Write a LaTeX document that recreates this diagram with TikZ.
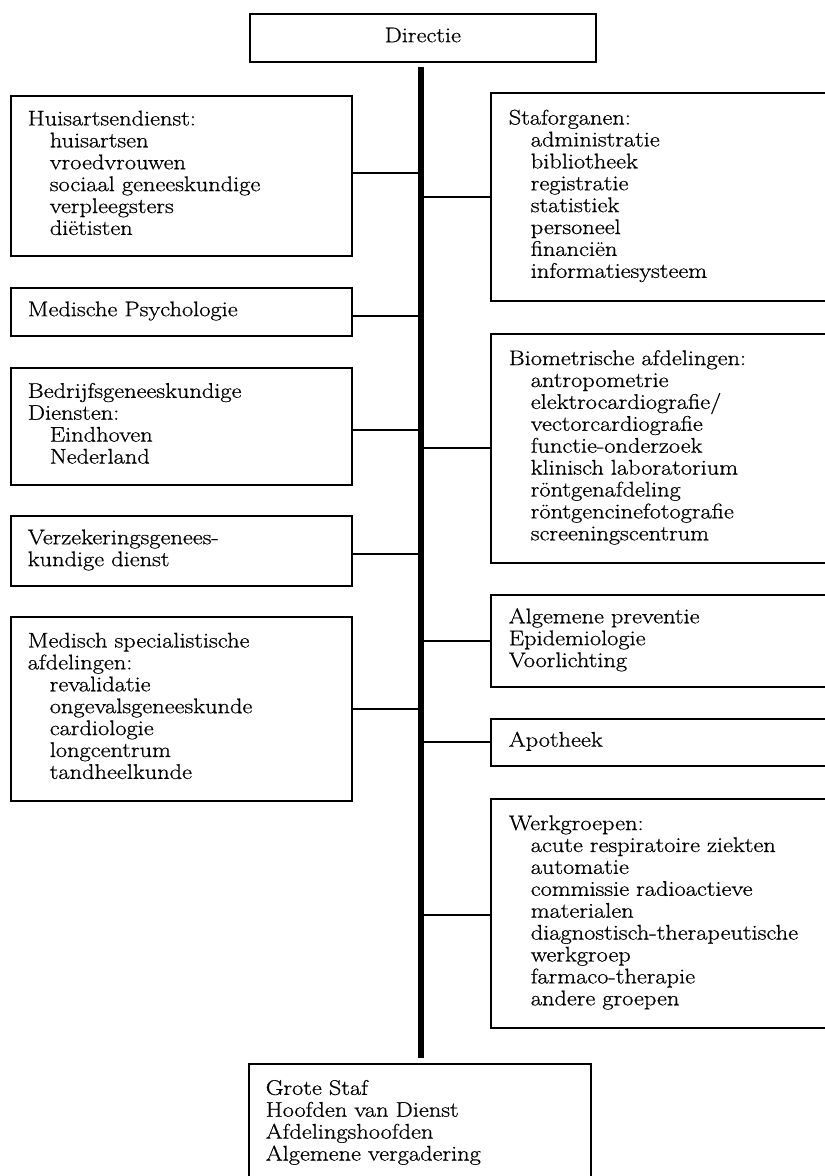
\documentclass[tikz,border=0pt]{standalone}
\usepackage{fontspec}
\setmainfont{Latin Modern Roman}[FakeBold=0.7, FakeStretch=1.15]
\newcommand\ind{\hspace*{22pt}}
\tikzset{
  base/.style={font=\fontsize{21.2}{21.9}\selectfont, execute at begin node=\strut, execute at end node=\strut},
  frame/.style={draw, line width=1.6pt},
  lbox/.style={base, frame, inner ysep=0pt, inner xsep=17pt, text width=307pt, align=left, anchor=north west},
  rbox/.style={lbox, inner xsep=18pt, text width=324pt},
  conn/.style={line width=1.5pt},
  spine/.style={line width=6pt}
}
\begin{document}
\begin{tikzpicture}[x=1pt,y=-1pt]
\useasboundingbox (0,0) rectangle (825,1176);
\clip (0,0) rectangle (825,1176);

\node[base, frame, inner sep=0pt, minimum width=346pt, minimum height=48pt, anchor=north west] (dir) at (249,13) {Directie};

% left column
\node[lbox, minimum height=160pt] (huis) at (10,95) {Huisartsendienst:\\\ind huisartsen\\\ind vroedvrouwen\\\ind sociaal geneeskundige\\\ind verpleegsters\\\ind diëtisten};
\node[lbox, minimum height=48pt] (med) at (10,287) {Medische Psychologie};
\node[lbox, minimum height=117pt] (bedr) at (10,367) {Bedrijfsgeneeskundige\\Diensten:\\\ind Eindhoven\\\ind Nederland};
\node[lbox, minimum height=70pt] (verz) at (10,515) {Verzekeringsgenees-\\kundige dienst};
\node[lbox, minimum height=184pt] (meds) at (10,616) {Medisch specialistische\\afdelingen:\\\ind revalidatie\\\ind ongevalsgeneeskunde\\\ind cardiologie\\\ind longcentrum\\\ind tandheelkunde};

% right column
\node[rbox, minimum height=208pt] (staf) at (490,92) {Staforganen:\\\ind administratie\\\ind bibliotheek\\\ind registratie\\\ind statistiek\\\ind personeel\\\ind financiën\\\ind informatiesysteem};
\node[rbox, minimum height=229pt] (bio) at (490,333) {Biometrische afdelingen:\\\ind antropometrie\\\ind elektrocardiografie/\\\ind vectorcardiografie\\\ind functie-onderzoek\\\ind klinisch laboratorium\\\ind röntgenafdeling\\\ind röntgencinefotografie\\\ind screeningscentrum};
\node[rbox, minimum height=92pt] (alg) at (490,594) {Algemene preventie\\Epidemiologie\\Voorlichting};
\node[rbox, minimum height=47pt] (apo) at (490,718) {Apotheek};
\node[rbox, minimum height=229pt] (werk) at (490,798) {Werkgroepen:\\\ind acute respiratoire ziekten\\\ind automatie\\\ind commissie radioactieve\\\ind materialen\\\ind diagnostisch-therapeutische\\\ind werkgroep\\\ind farmaco-therapie\\\ind andere groepen};

% bottom
\node[lbox, text width=308pt, minimum height=119pt] (grote) at (248,1063) {Grote Staf\\Hoofden van Dienst\\Afdelingshoofden\\Algemene vergadering};

% spine
\coordinate (st) at (420.5,67);
\coordinate (sb) at (420.5,1058);
\draw[spine] (st) -- (sb);

% connectors
\draw[conn] ([yshift=3pt]huis.east) -- ([yshift=3pt]huis.east -| st);
\draw[conn] ([yshift=-4pt]med.east) -- ([yshift=-4pt]med.east -| st);
\draw[conn] ([yshift=-3.5pt]bedr.east) -- ([yshift=-3.5pt]bedr.east -| st);
\draw[conn] ([yshift=-3pt]verz.east) -- ([yshift=-3pt]verz.east -| st);
\draw[conn] (meds.east) -- (meds.east -| st);
\draw[conn] (staf.west -| st) -- (staf.west);
\draw[conn] ([yshift=0.5pt]bio.west -| st) -- ([yshift=0.5pt]bio.west);
\draw[conn] (alg.west -| st) -- (alg.west);
\draw[conn] ([yshift=0.5pt]apo.west -| st) -- ([yshift=0.5pt]apo.west);
\draw[conn] ([yshift=-1.5pt]werk.west -| st) -- ([yshift=-1.5pt]werk.west);
\end{tikzpicture}
\end{document}
